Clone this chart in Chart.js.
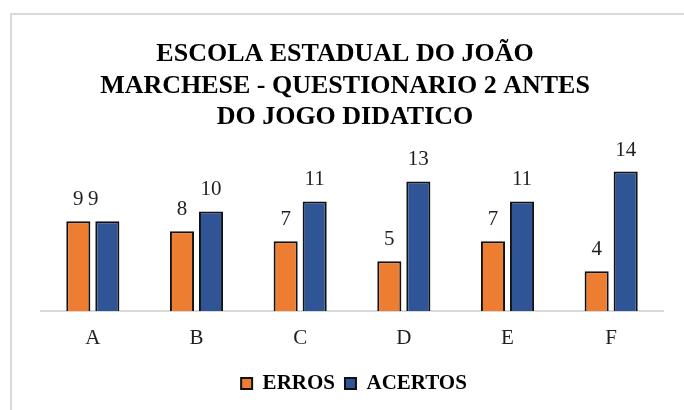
<!DOCTYPE html>
<html><head><meta charset="utf-8">
<script src="https://cdn.jsdelivr.net/npm/chart.js@4.4.1/dist/chart.umd.min.js"></script>
<style>
html,body{margin:0;padding:0;background:#fff;width:684px;height:410px;overflow:hidden;}
#frame{position:absolute;left:10px;top:13px;width:700px;height:420px;border:2px solid #d9d9d9;box-sizing:border-box;}
#wrap{position:absolute;left:0;top:0;width:684px;height:410px;}
</style></head><body>
<div id="frame"></div>
<div id="wrap"><canvas id="c" width="684" height="410"></canvas></div>
<script>
const categories = ['A', 'B', 'C', 'D', 'E', 'F'];
const erros = [9, 8, 7, 5, 7, 4];
const acertos = [9, 10, 11, 13, 11, 14];
const seriesNames = ['ERROS', 'ACERTOS'];
const titleLines = ['ESCOLA ESTADUAL DO JOÃO', 'MARCHESE - QUESTIONARIO 2 ANTES', 'DO JOGO DIDATICO'];

const SERIF = "'Liberation Serif', 'Times New Roman', serif";

const dataLabels = {
  id: 'dataLabels',
  afterDatasetsDraw(chart, args, opts) {
    const ctx = chart.ctx;
    ctx.save();
    ctx.font = '21px ' + SERIF;
    ctx.fillStyle = '#1f1f1f';
    ctx.textAlign = 'center';
    ctx.textBaseline = 'alphabetic';
    chart.data.datasets.forEach((ds, di) => {
      const meta = chart.getDatasetMeta(di);
      meta.data.forEach((el, i) => {
        const shift = (opts.shift[di] && opts.shift[di][i]) || 0;
        ctx.fillText(String(ds.data[i]), el.x + shift, el.y - 16);
      });
    });
    ctx.restore();
  }
};

const shiftBlocks = {
  id: 'shiftBlocks',
  afterLayout(chart, args, opts) {
    if (chart.titleBlock) { chart.titleBlock.left += opts.title; chart.titleBlock.right += opts.title; }
    if (chart.legend) { chart.legend.left += opts.legend; chart.legend.right += opts.legend; }
  }
};

new Chart(document.getElementById('c'), {
  type: 'bar',
  data: {
    labels: categories,
    datasets: [
      { label: seriesNames[0], data: erros, backgroundColor: '#ED7D31', borderColor: '#111', borderWidth: 2 },
      { label: seriesNames[1], data: acertos, backgroundColor: '#2F5597', borderColor: '#111', borderWidth: 2 }
    ]
  },
  options: {
    responsive: false,
    animation: false,
    devicePixelRatio: 1,
    layout: { padding: { left: 41, right: 21, top: 0, bottom: 6 } },
    datasets: { bar: { categoryPercentage: 0.56, barPercentage: 0.83 } },
    scales: {
      x: {
        grid: { display: false, drawTicks: false },
        border: { display: true, color: '#d9d9d9', width: 2 },
        ticks: { color: '#1f1f1f', font: { family: SERIF, size: 21 }, padding: 15 },
        afterFit(scale) { scale.height = 52; }
      },
      y: { display: false, min: 0, max: 16 }
    },
    plugins: {
      title: {
        display: true,
        text: titleLines,
        color: '#000',
        font: { family: SERIF, size: 26, weight: 'bold', lineHeight: 1.2 },
        padding: { top: 39, bottom: 19 }
      },
      legend: {
        position: 'bottom',
        labels: {
          color: '#000',
          font: { family: SERIF, size: 21, weight: 'bold' },
          boxWidth: 11,
          boxHeight: 11,
          padding: 10
        }
      },
      tooltip: { enabled: false },
      dataLabels: { shift: { 1: { 0: -14 } } },
      shiftBlocks: { title: -7, legend: 2 }
    }
  },
  plugins: [dataLabels, shiftBlocks]
});
</script>
</body></html>
